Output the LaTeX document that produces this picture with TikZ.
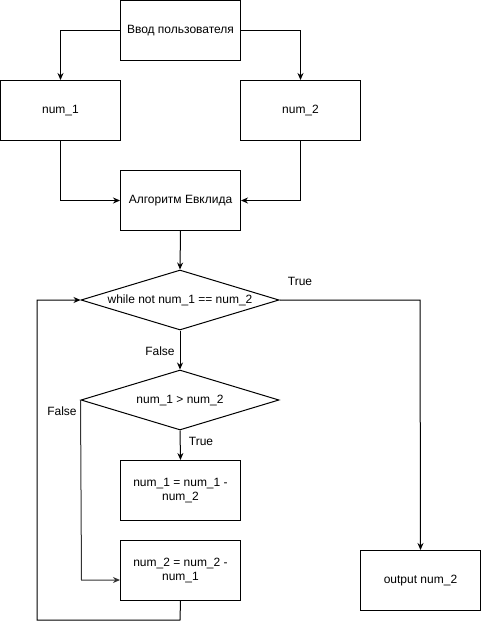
\documentclass[tikz,border=0pt]{standalone}
\usepackage{fontspec}
\setmainfont{Liberation Sans}
\usetikzlibrary{shapes.geometric,arrows.meta}
\begin{document}
\begin{tikzpicture}[x=1pt,y=-1pt,
  font=\fontsize{12}{14}\selectfont,
  box/.style={draw,line width=1pt,minimum width=120pt,minimum height=60pt,inner sep=0pt,align=center,anchor=north west},
  dia/.style={draw,line width=1pt,diamond,minimum width=198pt,minimum height=60pt,inner sep=0pt,aspect=3.3},
  conn/.style={line width=1pt,-{Stealth[length=7pt,width=6pt]}},
  lbl/.style={inner sep=0pt}]
\useasboundingbox (0,0) rectangle (481,629);
\node[box] (in) at (120,0) {Ввод пользователя};
\node[box] (n1) at (0,80) {num\_1};
\node[box] (n2) at (240,80) {num\_2};
\node[box] (alg) at (120,170) {Алгоритм Евклида};
\node[dia,label=center:{while not num\_1 == num\_2}] (d1) at (180,300) {};
\node[dia,label=center:{num\_1 > num\_2}] (d2) at (180,400) {};
\node[box] (s1) at (120,460) {num\_1 = num\_1 -\\num\_2};
\node[box] (s2) at (120,540) {num\_2 = num\_2 -\\num\_1};
\node[box] (out) at (360,550) {output num\_2};
\coordinate (c1) at (420,300);
\coordinate (c2) at (81.5,580);
\coordinate (c3) at (180,620);
\coordinate (c4) at (37,620);
\coordinate (c5) at (37,300);
\draw[conn] (in.west) -| (n1.north);
\draw[conn] (in.east) -| (n2.north);
\draw[conn] (n1.south) |- (alg.west);
\draw[conn] (n2.south) |- (alg.east);
\draw[conn] (alg.south) -- (d1.north);
\draw[conn] (d1.east) -- (c1) -- (out.north);
\draw[conn] (d1.south) -- (d2.north);
\draw[conn] (d2.south) -- (s1.north);
\draw[conn,black!80] (d2.west) -- (c2) -- (s2.west |- c2);
\draw[conn] (s2.south) -- (c3) -- (c4) -- (c5) -- (d1.west);
\node[lbl] (t1) at (300,281) {True};
\node[lbl] (f1) at (160,351) {False};
\node[lbl] (f2) at (62,411) {False};
\node[lbl] (t2) at (201,441) {True};
\end{tikzpicture}
\end{document}
